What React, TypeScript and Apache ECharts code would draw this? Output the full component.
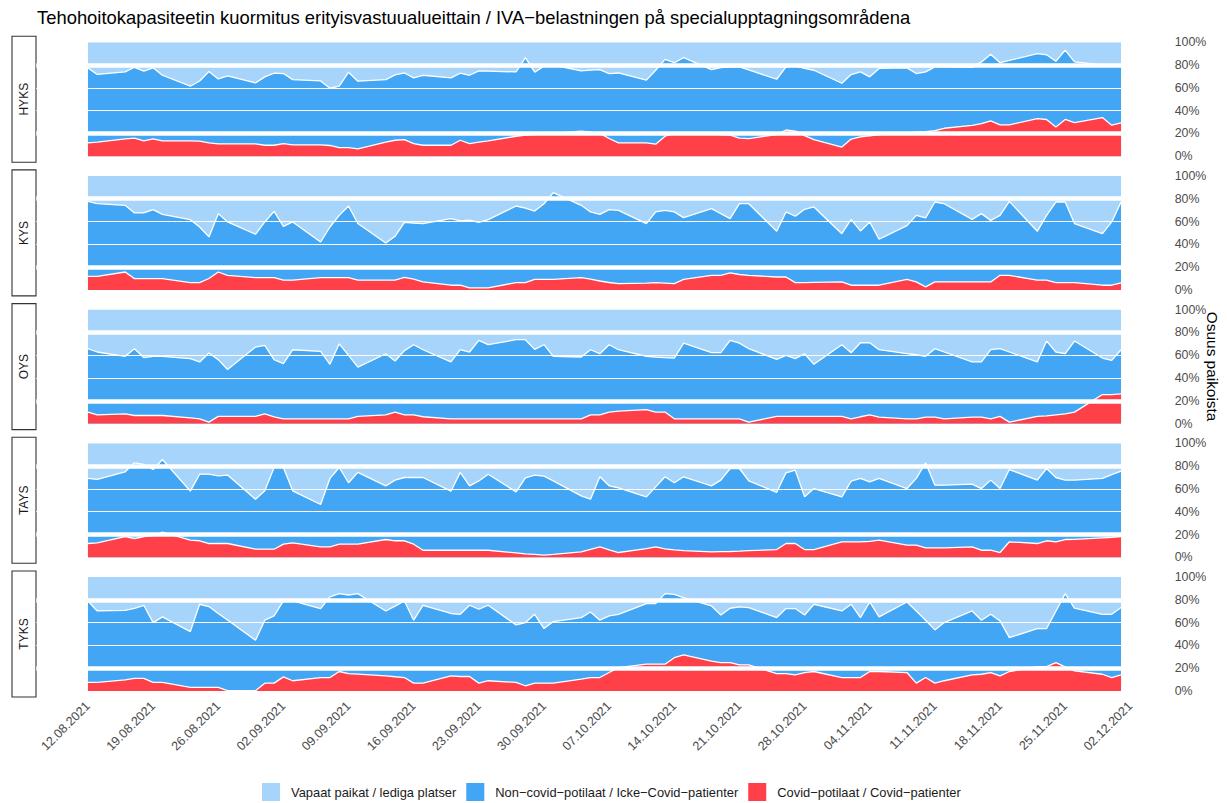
import React, { useEffect, useRef } from 'react';
import * as echarts from 'echarts';

const FONT = "'Liberation Sans', Arial, Helvetica, sans-serif";
const COLOR_FREE = '#A6D4FA';
const COLOR_NONCOVID = '#42A6F5';
const COLOR_COVID = '#FF4048';

const chartTitle =
  'Tehohoitokapasiteetin kuormitus erityisvastuualueittain / IVA−belastningen på specialupptagningsområdena';
const yAxisTitle = 'Osuus paikoista';
const regions = ['HYKS', 'KYS', 'OYS', 'TAYS', 'TYKS'];
const seriesNames = [
  'Vapaat paikat / lediga platser',
  'Non−covid−potilaat / Icke−Covid−patienter',
  'Covid−potilaat / Covid−patienter',
];

const reportDates = [
  '2021-08-12', '2021-08-13', '2021-08-16', '2021-08-17', '2021-08-18', '2021-08-19', '2021-08-20', '2021-08-23', '2021-08-24', '2021-08-25',
  '2021-08-26', '2021-08-27', '2021-08-30', '2021-08-31', '2021-09-01', '2021-09-02', '2021-09-03', '2021-09-06', '2021-09-07', '2021-09-08',
  '2021-09-09', '2021-09-10', '2021-09-13', '2021-09-14', '2021-09-15', '2021-09-16', '2021-09-17', '2021-09-20', '2021-09-21', '2021-09-22',
  '2021-09-23', '2021-09-24', '2021-09-27', '2021-09-28', '2021-09-29', '2021-09-30', '2021-10-01', '2021-10-04', '2021-10-05', '2021-10-06',
  '2021-10-07', '2021-10-08', '2021-10-11', '2021-10-12', '2021-10-13', '2021-10-14', '2021-10-15', '2021-10-18', '2021-10-19', '2021-10-20',
  '2021-10-21', '2021-10-22', '2021-10-25', '2021-10-26', '2021-10-27', '2021-10-28', '2021-10-29', '2021-11-01', '2021-11-02', '2021-11-03',
  '2021-11-04', '2021-11-05', '2021-11-08', '2021-11-09', '2021-11-10', '2021-11-11', '2021-11-12', '2021-11-15', '2021-11-16', '2021-11-17',
  '2021-11-18', '2021-11-19', '2021-11-22', '2021-11-23', '2021-11-24', '2021-11-25', '2021-11-26', '2021-11-29', '2021-11-30', '2021-12-01',
];

const tickLabels = [
  '12.08.2021', '19.08.2021', '26.08.2021', '02.09.2021', '09.09.2021', '16.09.2021', '23.09.2021', '30.09.2021', '07.10.2021',
  '14.10.2021', '21.10.2021', '28.10.2021', '04.11.2021', '11.11.2021', '18.11.2021', '25.11.2021', '02.12.2021',
];

const guideLinesThin = [40, 60];
const guideLinesThick = [20, 80];

// occupied share (covid + non-covid patients), % of places
const hyksOccupied = [
  77.5, 71.7, 74, 78, 74.6, 77.5, 71, 61.4, 66, 74.3,
  67.8, 70.5, 64.3, 69.6, 72.8, 72.5, 67.2, 66, 59.6, 61.4,
  73.7, 65.8, 67.2, 71.3, 73, 68.7, 71, 68.7, 72.8, 71,
  74.8, 74.6, 73.9, 86.5, 73.7, 79, 80, 74.8, 75.5, 76,
  72.5, 73, 66.7, 75.4, 85, 82, 86.5, 76, 77.8, 78.4,
  78.4, 75.7, 67.5, 78.4, 79, 77, 75.4, 64, 71.6, 74,
  69.6, 77, 77.5, 72.5, 74, 78.4, 78.5, 78, 82.7, 89.5,
  82, 84, 90, 89, 83.3, 93, 82.7, 80, 79, 80,
];
// covid patients, % of places
const hyksCovid = [
  11.7, 12.3, 15.2, 15.8, 13.5, 15.2, 13.5, 13.5, 13.2, 11.7,
  10.8, 10.8, 10.8, 9.6, 9.6, 11.1, 9.9, 9.9, 9.4, 7.6,
  7.6, 6.4, 12.3, 14, 14.6, 11.1, 9.6, 9.6, 14, 11.1,
  12.3, 13.5, 17.5, 18.5, 19, 19.5, 20, 22, 21, 20,
  15.5, 11.7, 11.7, 10.5, 17.5, 20, 20.5, 20, 19, 18.5,
  15.8, 15.5, 19, 23, 22, 18, 14.6, 8, 15, 17,
  17.8, 19, 20.5, 21, 21.5, 22.5, 24.5, 27, 28.5, 31,
  27.5, 27.5, 33, 32.2, 25.7, 32.2, 29.5, 33.9, 27.2, 29.2,
];
const kysOccupied = [
  77.7, 75.7, 74.2, 67.5, 67.5, 70.4, 66.3, 61.6, 55.2, 46.5,
  66.9, 59.6, 48.8, 59.6, 68.9, 55.8, 59.6, 42, 55.2, 65.4,
  73.6, 58.2, 41.2, 47, 59.3, 58.7, 58.2, 62.6, 60.6, 61.2,
  59.3, 61.6, 73.6, 71.8, 69.2, 75.6, 85.3, 74.2, 68.4, 66.3,
  70.4, 69.8, 58.2, 68.4, 69.8, 68.4, 63.4, 71.3, 66.9, 62.5,
  75.6, 75.6, 51.4, 68.4, 64.6, 70.7, 72.8, 49.3, 61.9, 51.7,
  59.6, 44.4, 56.4, 65.4, 63.1, 77.1, 75.6, 61.9, 66.9, 61,
  65.4, 77.7, 51.4, 65.4, 77.1, 77.1, 58.2, 49.3, 59.6, 77.1,
];
const kysCovid = [
  11.9, 11.9, 15.7, 9.9, 9.9, 9.9, 9.9, 6.4, 6.4, 10,
  15.7, 12.8, 10.8, 10.8, 10.8, 8.5, 8.5, 10.8, 10.8, 10.8,
  10.8, 8.5, 8.5, 8.5, 11, 9.5, 7, 4.1, 4.1, 1.7,
  1.7, 1.7, 6.4, 6.4, 9.3, 9.3, 9.3, 10.8, 9.5, 7.8,
  6.5, 5.5, 6, 6.4, 6, 5.5, 9.3, 12.8, 12.8, 15,
  13.5, 12.8, 11.3, 11.3, 6.4, 6.4, 6.6, 7, 4.1, 4.1,
  4.1, 4.1, 9.3, 7, 2.6, 7, 7, 7, 7, 7,
  12.8, 12.8, 8.5, 8.5, 6.4, 6.4, 6.4, 4.1, 4.1, 6.1,
];
const oysOccupied = [
  65.7, 62.8, 59, 65.7, 57.9, 59, 59, 57, 54.1, 61.9,
  56.1, 47.5, 67.1, 68.6, 56.1, 52.6, 64.8, 63.3, 52, 70,
  59.8, 49.6, 61.3, 54.9, 64, 69.2, 64.8, 54.1, 64.8, 62.8,
  73, 69.2, 73.6, 73.6, 65.1, 69.2, 59, 58.4, 64.8, 61.3,
  69.2, 64.8, 59, 58.4, 57.9, 57.5, 70.6, 62.2, 62.2, 73,
  70.6, 65.7, 56.4, 59.8, 57, 61.3, 52, 69.2, 62.2, 70.9,
  70.9, 64.8, 61.3, 60.4, 59, 65.7, 62.8, 54.1, 54.1, 64.8,
  65.7, 62.8, 54.1, 72.4, 62.8, 61.3, 72.4, 57.5, 55.4, 64.8,
];
const oysCovid = [
  10.1, 7.7, 8.6, 7.1, 7.1, 7.1, 7.1, 5.1, 4.2, 1.3,
  6.3, 6.3, 6.3, 8.6, 6, 4.2, 4.2, 4.2, 4.2, 4.2,
  4.2, 6.3, 7.7, 10.1, 7.7, 7.7, 6, 4.2, 4.2, 4.2,
  4.2, 4.2, 4.2, 4.2, 4.2, 4.2, 4.2, 4.2, 7.7, 7.7,
  10.1, 11, 12.2, 10.1, 10.1, 4.2, 4.2, 4.2, 4.2, 4.2,
  4.2, 1.3, 6.3, 6.3, 6.3, 6.3, 6.3, 6.3, 4.2, 6,
  7.7, 5.7, 4.2, 4.2, 5.7, 5.7, 4.2, 5.7, 5.7, 4.2,
  6.3, 1.3, 6.3, 6.8, 7.7, 8.6, 10.1, 25.5, 25.5, 26.1,
];
const taysOccupied = [
  69.2, 68.3, 75, 82.9, 81.4, 77, 85.8, 58, 72.9, 72.9,
  71.5, 72.1, 51, 58.3, 78.8, 78.8, 58.3, 46.3, 69.2, 78.8,
  65.4, 74.5, 62.7, 67.7, 70, 70, 70, 58, 74.5, 62.7,
  67, 72.9, 57.4, 69.7, 72.1, 71.2, 67.1, 53.9, 51, 70.6,
  62.7, 61, 53, 61.8, 70.6, 65.4, 70.6, 62.7, 67.7, 77.9,
  77.9, 67, 57, 74.1, 76.4, 53, 60.3, 53, 66.8, 69.2,
  66.2, 69.2, 60.3, 69.2, 82.9, 63.3, 63.3, 64.2, 60.3, 67.7,
  60.3, 77, 67.7, 77.9, 70, 67.7, 67.7, 69.2, 72.5, 75.6,
];
const taysCovid = [
  12.1, 12.7, 18.1, 16.5, 18.1, 19, 22, 15.1, 14.5, 12.1,
  12.1, 12.1, 7.1, 7.1, 7.1, 11.5, 12.7, 9.2, 9.2, 11.5,
  11.5, 11.5, 15.6, 14.5, 14.5, 11.5, 6.2, 6.2, 6.2, 6.2,
  6.2, 6.2, 3.9, 3, 2.5, 1.9, 2.5, 4.8, 7, 9.2,
  6.5, 4.2, 7.7, 9.2, 7.4, 6.5, 5.8, 4.8, 5, 5.1,
  5.4, 5.8, 6.8, 12.1, 12.1, 6.8, 6.8, 13.6, 13.6, 13.6,
  14, 15.1, 10.7, 10.7, 8.3, 8.3, 8.3, 9.2, 6.2, 6.2,
  4.2, 13.6, 12.1, 14.5, 13.6, 15.6, 15.8, 17.1, 17.5, 18.1,
];
const tyksOccupied = [
  79, 70.2, 70.8, 72.5, 75.2, 60, 65, 52.1, 76.1, 74.1,
  68, 62.3, 44.5, 62.1, 65.9, 79, 79, 72.3, 82.5, 85.4,
  84.2, 85.4, 70.2, 74.5, 79, 62.1, 75.2, 68, 67.3, 75.2,
  71.7, 75.2, 58, 60, 67.3, 54.8, 60.9, 64.4, 69.3, 62.1,
  65.9, 67.3, 76.6, 76.6, 85.4, 84.8, 81.9, 74.6, 66.7, 72.6,
  73.8, 73.2, 64.4, 72.3, 72.3, 66.7, 76.1, 70.2, 76.1, 64.4,
  78.1, 65, 78.1, 70.2, 62.1, 53.6, 60, 70.2, 62, 67.3,
  61.5, 46.8, 54.8, 54.8, 70, 85.4, 72.6, 67.3, 67.3, 73.2,
];
const tyksCovid = [
  7.5, 7.5, 9.8, 11, 11, 7.5, 7.5, 3.2, 3.2, 3.2,
  3.2, 0.3, 0.3, 6.9, 6.9, 12.4, 9, 11.8, 11.8, 17.1,
  15.3, 14.8, 13.3, 12.5, 11.8, 6.9, 6.9, 13.3, 12.7, 12.7,
  6.9, 9, 7.5, 4.6, 6.9, 6.9, 6.9, 10.4, 11.8, 11.8,
  16.2, 20.5, 23.5, 23.5, 23.5, 29.2, 31.6, 26.3, 24.9, 24.9,
  22.9, 22.9, 15.3, 15.3, 14.2, 16.2, 17.1, 11.8, 11.8, 11.8,
  17.1, 17.1, 16.2, 6.9, 11.8, 6.9, 9, 14.2, 14.7, 16.2,
  13.3, 17.1, 21.4, 21.4, 24.9, 21.1, 17.7, 14.7, 11.8, 14.2,
];

const occupiedByRegion = [hyksOccupied, kysOccupied, oysOccupied, taysOccupied, tyksOccupied];
const covidByRegion = [hyksCovid, kysCovid, oysCovid, taysCovid, tyksCovid];

// layout
const PANEL_TOP0 = 42.2;
const PANEL_STEP = 133.7;
const PANEL_H = 114;
const GRID_LEFT = 36.3;
const GRID_RIGHT = 54.3;

const parseIso = (s: string) => {
  const [y, m, d] = s.split('-').map(Number);
  return Date.UTC(y, m - 1, d);
};
const parseFi = (s: string) => {
  const [d, m, y] = s.split('.').map(Number);
  return Date.UTC(y, m - 1, d);
};

function buildOption() {
  const times = reportDates.map(parseIso);
  const tickTimes = tickLabels.map(parseFi);
  const span = times[times.length - 1] - times[0];
  const xMin = times[0] - span * 0.05;
  const xMax = times[times.length - 1] + span * 0.05;

  const grid: any[] = [];
  const xAxis: any[] = [];
  const yAxis: any[] = [];
  const series: any[] = [];
  const graphic: any[] = [];

  const tickFormatter = (v: number) => {
    let best = 0;
    for (let k = 1; k < tickTimes.length; k++) {
      if (Math.abs(tickTimes[k] - v) < Math.abs(tickTimes[best] - v)) best = k;
    }
    return tickLabels[best];
  };

  regions.forEach((region, i) => {
    const top = PANEL_TOP0 + PANEL_STEP * i;
    grid.push({ left: GRID_LEFT, right: GRID_RIGHT, top, height: PANEL_H, containLabel: false });
    const isLast = i === regions.length - 1;
    xAxis.push({
      type: 'value',
      gridIndex: i,
      min: xMin,
      max: xMax,
      axisLine: { show: false },
      axisTick: { show: false },
      splitLine: { show: false },
      axisLabel: isLast
        ? {
            show: true,
            customValues: tickTimes,
            formatter: tickFormatter,
            rotate: 45,
            margin: 13,
            fontSize: 12.6,
            fontFamily: FONT,
            color: '#4d4d4d',
            hideOverlap: false,
          }
        : { show: false },
    });
    yAxis.push({
      type: 'value',
      gridIndex: i,
      position: 'right',
      min: 0,
      max: 100,
      interval: 20,
      axisLine: { show: false },
      axisTick: { show: false },
      splitLine: { show: false },
      axisLabel: {
        formatter: (v: number) => `${v}%`,
        margin: 2,
        fontSize: 12.4,
        fontFamily: FONT,
        color: '#4d4d4d',
        align: 'left',
      },
    });

    const occ = occupiedByRegion[i];
    const cov = covidByRegion[i];
    const occupiedData = times.map((t, k) => [t, occ[k]]);
    const covidData = times.map((t, k) => [t, cov[k]]);

    // free places: area between occupied share and 100 %
    series.push({
      type: 'line',
      name: seriesNames[0],
      xAxisIndex: i,
      yAxisIndex: i,
      data: occupiedData,
      symbol: 'none',
      showSymbol: false,
      silent: true,
      z: 2,
      itemStyle: { color: COLOR_FREE },
      lineStyle: { color: COLOR_FREE, width: 0, opacity: 0 },
      areaStyle: { color: COLOR_FREE, opacity: 1, origin: 'end' },
    });
    // non-covid patients: area under occupied share (covid part drawn over it)
    series.push({
      type: 'line',
      name: seriesNames[1],
      xAxisIndex: i,
      yAxisIndex: i,
      data: occupiedData,
      symbol: 'none',
      showSymbol: false,
      silent: true,
      z: 3,
      itemStyle: { color: COLOR_NONCOVID },
      lineStyle: { color: '#ffffff', width: 1.3 },
      areaStyle: { color: COLOR_NONCOVID, opacity: 1, origin: 'start' },
    });
    // covid patients
    series.push({
      type: 'line',
      name: seriesNames[2],
      xAxisIndex: i,
      yAxisIndex: i,
      data: covidData,
      symbol: 'none',
      showSymbol: false,
      silent: true,
      z: 4,
      itemStyle: { color: COLOR_COVID },
      lineStyle: { color: '#ffffff', width: 1.3 },
      areaStyle: { color: COLOR_COVID, opacity: 1, origin: 'start' },
      markLine: {
        silent: true,
        symbol: 'none',
        label: { show: false },
        lineStyle: { color: '#ffffff', type: 'solid', width: 1.2 },
        data: [
          ...guideLinesThin.map((v) => ({ yAxis: v })),
          ...guideLinesThick.map((v) => ({ yAxis: v, lineStyle: { color: '#ffffff', type: 'solid', width: 4.6 } })),
        ],
      },
    });

    // facet strip on the left
    graphic.push({
      type: 'rect',
      silent: true,
      shape: { x: 12, y: top - 6, width: 24, height: PANEL_H + 12 },
      style: { fill: '#ffffff', stroke: '#333333', lineWidth: 1.1 },
    });
    graphic.push({
      type: 'text',
      silent: true,
      x: 24,
      y: top + PANEL_H / 2,
      rotation: Math.PI / 2,
      style: {
        text: region,
        fill: '#1a1a1a',
        font: `12px ${FONT}`,
        align: 'center',
        verticalAlign: 'middle',
      },
    });
  });

  graphic.push({
    type: 'text',
    silent: true,
    x: 37,
    y: 17,
    style: {
      text: chartTitle,
      fill: '#000000',
      font: `18.4px ${FONT}`,
      align: 'left',
      verticalAlign: 'middle',
    },
  });
  graphic.push({
    type: 'text',
    silent: true,
    x: 1212,
    y: PANEL_TOP0 + (PANEL_STEP * 4 + PANEL_H) / 2,
    rotation: -Math.PI / 2,
    style: {
      text: yAxisTitle,
      fill: '#000000',
      font: `15.4px ${FONT}`,
      align: 'center',
      verticalAlign: 'middle',
    },
  });

  const legendColors = [COLOR_FREE, COLOR_NONCOVID, COLOR_COVID];
  return {
    animation: false,
    backgroundColor: '#ffffff',
    grid,
    xAxis,
    yAxis,
    series,
    graphic,
    legend: {
      data: seriesNames.map((name, k) => ({
        name,
        itemStyle: { color: legendColors[k], borderWidth: 0 },
      })),
      left: 262,
      top: 783,
      padding: 0,
      orient: 'horizontal',
      icon: 'rect',
      itemWidth: 18,
      itemHeight: 18,
      itemGap: 10,
      selectedMode: false,
      textStyle: { fontSize: 12.9, fontFamily: FONT, color: '#1a1a1a', padding: [0, 0, 0, 6] },
    },
  };
}

export default function App() {
  const ref = useRef<HTMLDivElement>(null);
  useEffect(() => {
    if (!ref.current) return;
    const chart = echarts.init(ref.current, null, { renderer: 'svg' });
    chart.setOption(buildOption() as any);
    return () => chart.dispose();
  }, []);
  return (
    <div
      ref={ref}
      style={{ position: 'fixed', left: 0, top: 0, width: 1227, height: 803, background: '#ffffff' }}
    />
  );
}
